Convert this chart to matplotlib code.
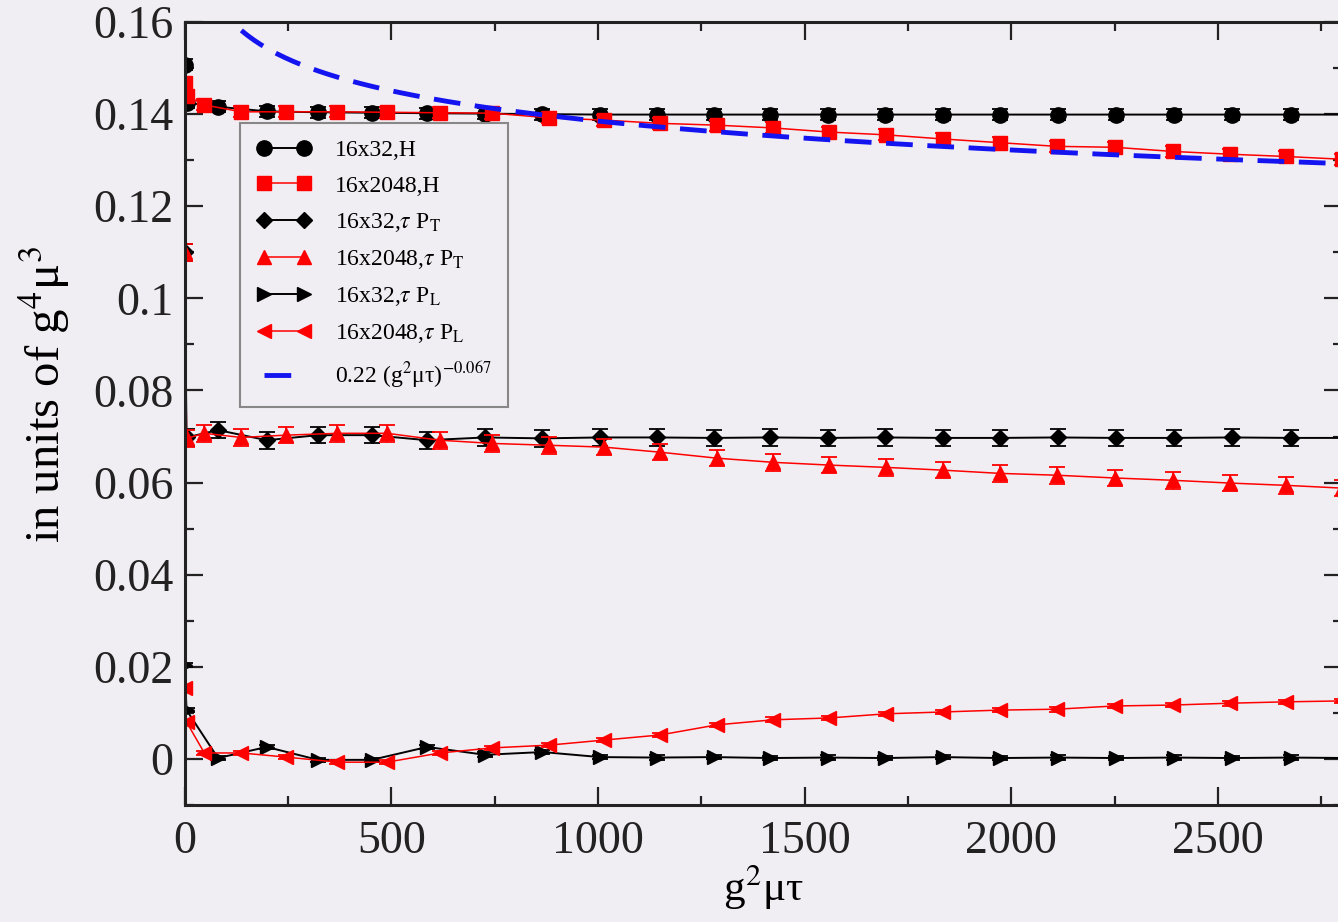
import numpy as np
import matplotlib.pyplot as plt
from matplotlib.ticker import MultipleLocator

plt.rcParams['font.family'] = ['Liberation Serif', 'DejaVu Serif']
plt.rcParams['mathtext.fontset'] = 'stix'

# time axis of the two lattices
t32 = [0, 5, 81, 199, 323, 453, 587, 727, 866, 1005, 1143, 1280, 1417, 1556,
       1694, 1834, 1972, 2112, 2253, 2394, 2535, 2676, 2815]
t2048 = [0, 5, 48, 137, 246, 370, 490, 618, 745, 882, 1015, 1150, 1288, 1424,
         1560, 1697, 1835, 1972, 2110, 2250, 2390, 2528, 2665, 2800]

# energy density H
H32 = [0.1507, 0.1425, 0.1416, 0.1406, 0.1404, 0.1403, 0.1402, 0.1401, 0.1400,
       0.1399, 0.1399, 0.1399, 0.1399, 0.1399, 0.1399, 0.1399, 0.1399, 0.1399,
       0.1399, 0.1399, 0.1399, 0.1399, 0.1399]
H2048 = [0.1468, 0.1440, 0.1420, 0.1405, 0.1405, 0.1405, 0.1404, 0.1403, 0.1402,
         0.1392, 0.1387, 0.1380, 0.1376, 0.1370, 0.1361, 0.1355, 0.1346, 0.1338,
         0.1330, 0.1328, 0.1319, 0.1313, 0.1308, 0.1302]

# transverse pressure times tau
PT32 = [0.110, 0.0698, 0.0714, 0.0692, 0.0703, 0.0703, 0.0692, 0.0698, 0.0696,
        0.0698, 0.0698, 0.0697, 0.0698, 0.0697, 0.0698, 0.0697, 0.0697, 0.0698,
        0.0697, 0.0697, 0.0698, 0.0697, 0.0697]
PT2048 = [0.110, 0.0696, 0.0707, 0.0698, 0.0703, 0.0707, 0.0707, 0.0692, 0.0685,
          0.0681, 0.0677, 0.0666, 0.0653, 0.0644, 0.0638, 0.0633, 0.0627, 0.0620,
          0.0616, 0.0610, 0.0605, 0.0599, 0.0594, 0.0588]

# longitudinal pressure times tau
PL32 = [0.0204, 0.0106, 0.0002, 0.0026, -0.0002, -0.0002, 0.0026, 0.0009, 0.0015,
        0.0004, 0.0003, 0.0004, 0.0002, 0.0003, 0.0002, 0.0004, 0.0002, 0.0003,
        0.0002, 0.0003, 0.0002, 0.0003, 0.0002]
PL2048 = [0.0154, 0.0080, 0.0013, 0.0013, 0.0004, -0.0007, -0.0007, 0.0013, 0.0024,
          0.0030, 0.0041, 0.0052, 0.0074, 0.0085, 0.0089, 0.0098, 0.0102, 0.0106,
          0.0108, 0.0115, 0.0117, 0.0121, 0.0124, 0.0126]

# power-law fit 0.22 (g^2 mu tau)^-0.067
fit_a, fit_p = 0.22, -0.067

bg = '#f1eef3'
fig = plt.figure(figsize=(13.38, 9.22), dpi=100)
fig.patch.set_facecolor(bg)
ax = fig.add_axes([184.5 / 1338, 117 / 922, (1342 - 184.5) / 1338, (805 - 22) / 922])
ax.set_facecolor(bg)

red = '#ff0000'
series = [
    (t32, H32, 'k', 'o', 11, 0.0012, '16x32,H'),
    (t2048, H2048, red, 's', 10, 0.0012, '16x2048,H'),
    (t32, PT32, 'k', 'D', 8, 0.0018, r'16x32,$\tau$ P$_{\rm T}$'),
    (t2048, PT2048, red, '^', 10, 0.0018, r'16x2048,$\tau$ P$_{\rm T}$'),
    (t32, PL32, 'k', '>', 10, 0.0005, r'16x32,$\tau$ P$_{\rm L}$'),
    (t2048, PL2048, red, '<', 10, 0.0005, r'16x2048,$\tau$ P$_{\rm L}$'),
]
for x, y, c, m, ms, err, lab in series:
    lw = 1.4 if c == 'k' else 1.1
    ax.errorbar(x, y, yerr=err, fmt='none', ecolor=c, elinewidth=1.3,
                capsize=5.5, capthick=1.3)
    ax.plot(x, y, '-', color=c, marker=m, ms=ms, lw=lw, label=lab)

tt = np.linspace(1, 2800, 600)
ax.plot(tt, fit_a * tt ** fit_p, '--', color='#1414f0', lw=3.5, dashes=(5.5, 3),
        label=r'0.22 (g$^2$μτ)$^{-0.067}$')

ax.set_xlim(0, 2800)
ax.set_ylim(-0.01, 0.16)
ax.xaxis.set_major_locator(MultipleLocator(500))
ax.xaxis.set_minor_locator(MultipleLocator(250))
ax.yaxis.set_minor_locator(MultipleLocator(0.01))
ax.set_yticks([0, 0.02, 0.04, 0.06, 0.08, 0.1, 0.12, 0.14, 0.16])
ax.set_yticklabels(['0', '0.02', '0.04', '0.06', '0.08', '0.1', '0.12', '0.14', '0.16'])
ax.tick_params(which='both', direction='in', top=True, right=True, width=1.6,
               labelsize=33, colors='#222222')
ax.tick_params(which='major', length=13)
ax.tick_params(which='minor', length=6.5)
ax.tick_params(axis='x', pad=11)
ax.tick_params(axis='y', pad=8)
for s in ax.spines.values():
    s.set_linewidth(2.2)
    s.set_color('#222222')

ax.set_xlabel('g$^2$μτ', fontsize=31, labelpad=0)
ax.set_ylabel('in units of g$^4$μ$^3$', fontsize=35)
ax.yaxis.set_label_coords(-0.097, 0.524)

leg = ax.legend(loc='upper left', bbox_to_anchor=(0.048, 0.871), borderaxespad=0,
                numpoints=2, handlelength=2.3, handletextpad=1.0, borderpad=0.7,
                fontsize=17, labelspacing=0.6,
                fancybox=False, framealpha=1, facecolor=bg, edgecolor='#888888')
leg.get_frame().set_linewidth(1.5)

plt.savefig('out.png', dpi=100, facecolor=bg)
